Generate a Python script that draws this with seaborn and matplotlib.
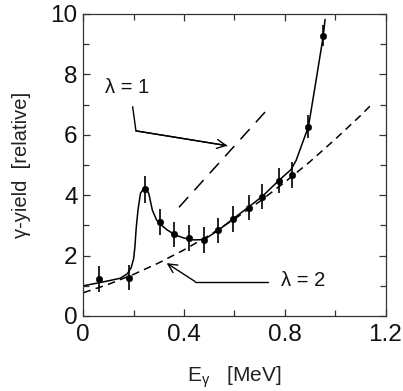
import numpy as np
import pandas as pd
import matplotlib
matplotlib.use("Agg")
import matplotlib.pyplot as plt
import seaborn as sns

# ---- data ----
pt_x = [0.062, 0.18, 0.244, 0.303, 0.361, 0.42, 0.48, 0.535, 0.594, 0.656, 0.709, 0.776, 0.829, 0.892, 0.953]
pt_y = [1.22, 1.27, 4.19, 3.11, 2.70, 2.58, 2.52, 2.84, 3.21, 3.59, 3.95, 4.48, 4.67, 6.26, 9.28]
pt_err = [0.42, 0.42, 0.44, 0.42, 0.42, 0.42, 0.42, 0.42, 0.42, 0.42, 0.42, 0.42, 0.42, 0.38, 0.35]

fit_x = [0.0, 0.08, 0.147, 0.175, 0.19, 0.2, 0.205, 0.21, 0.217, 0.227, 0.243, 0.26, 0.274,
         0.291, 0.304, 0.333, 0.366, 0.40, 0.44, 0.479, 0.535, 0.592, 0.655, 0.712, 0.778,
         0.825, 0.845, 0.865, 0.894, 0.918, 0.953, 0.96]
fit_y = [1.0, 1.13, 1.25, 1.40, 1.60, 1.9, 2.3, 2.9, 3.5, 4.06, 4.26, 4.06, 3.51,
         3.18, 3.05, 2.85, 2.68, 2.58, 2.52, 2.53, 2.83, 3.20, 3.60, 3.97, 4.50,
         4.85, 5.15, 5.61, 6.27, 7.48, 9.28, 9.82]

lam2_x = [0.0, 0.1, 0.2, 0.3, 0.4, 0.5, 0.6, 0.7, 0.8, 0.9, 1.0, 1.1, 1.143]
lam2_y = [0.77, 1.05, 1.38, 1.76, 2.19, 2.67, 3.21, 3.79, 4.43, 5.11, 5.85, 6.63, 6.99]

lam1_x = [0.38, 0.729]
lam1_y = [3.60, 6.82]

x_ticks = [0, 0.4, 0.8, 1.2]
x_ticklabels = ["0", "0.4", "0.8", "1.2"]
y_ticks = [0, 2, 4, 6, 8, 10]
y_ticklabels = ["0", "2", "4", "6", "8", "10"]

# ---- style ----
sns.set_theme(style="ticks")
plt.rcParams["font.family"] = ["Liberation Sans", "DejaVu Sans"]
plt.rcParams["mathtext.fontset"] = "custom"
plt.rcParams["mathtext.rm"] = "Liberation Sans"
plt.rcParams["mathtext.it"] = "Liberation Sans"
plt.rcParams["mathtext.default"] = "rm"

fig = plt.figure(figsize=(4.03, 3.91), dpi=100)
ax = fig.add_axes([83.3 / 403, 75 / 391, (385.5 - 83.3) / 403, (316 - 14) / 391])

sns.lineplot(x=lam2_x, y=lam2_y, ax=ax, color="black", lw=1.1,
             linestyle=(0, (5, 3.5)), sort=False)
sns.lineplot(x=lam1_x, y=lam1_y, ax=ax, color="black", lw=1.1,
             linestyle=(0, (9, 6)), sort=False)
sns.lineplot(x=fit_x, y=fit_y, ax=ax, color="black", lw=1.1, sort=False)
ax.errorbar(pt_x, pt_y, yerr=pt_err, fmt="none", ecolor="black", elinewidth=1.2, capsize=0)
sns.scatterplot(x=pt_x, y=pt_y, ax=ax, color="black", s=22, edgecolor="black", zorder=5)

# annotations
ax.text(0.174, 7.55, "λ = 1", fontsize=14.5, ha="center", va="center", color="#111111")
ax.plot([0.196, 0.209, 0.570], [6.93, 6.13, 5.64], color="black", lw=1.0)
ax.annotate("", xy=(0.572, 5.64), xytext=(0.209, 6.13),
            arrowprops=dict(arrowstyle="->", color="black", lw=1.0, mutation_scale=16,
                            shrinkA=0, shrinkB=0))
ax.text(0.873, 1.19, "λ = 2", fontsize=14.5, ha="center", va="center", color="#111111")
ax.plot([0.735, 0.444], [1.14, 1.14], color="black", lw=1.0)
ax.annotate("", xy=(0.331, 1.75), xytext=(0.444, 1.14),
            arrowprops=dict(arrowstyle="->", color="black", lw=1.0, mutation_scale=16,
                            shrinkA=0, shrinkB=0))

ax.set_xlim(0, 1.2)
ax.set_ylim(0, 10)
ax.set_xticks(x_ticks)
ax.set_xticklabels(x_ticklabels)
ax.set_yticks(y_ticks)
ax.set_yticklabels(y_ticklabels)
ax.set_xticks([0.2, 0.6, 1.0], minor=True)
ax.set_yticks([1, 3, 5, 7, 9], minor=True)
ax.tick_params(which="both", direction="in", top=True, right=True, color="#333333", width=0.9)
ax.tick_params(which="major", length=5, labelsize=17.5, pad=6, labelcolor="#111111")
ax.tick_params(which="minor", length=4)
ax.tick_params(axis="y", pad=4)
for s in ax.spines.values():
    s.set_color("#333333")
    s.set_linewidth(0.9)

ax.set_xlabel(r"E$_{\gamma}$   [MeV]", fontsize=15, labelpad=13, color="#222222")
ax.set_ylabel("γ-yield  [relative]", fontsize=14.5, labelpad=14, color="#222222")

fig.savefig("out.png", dpi=100)
